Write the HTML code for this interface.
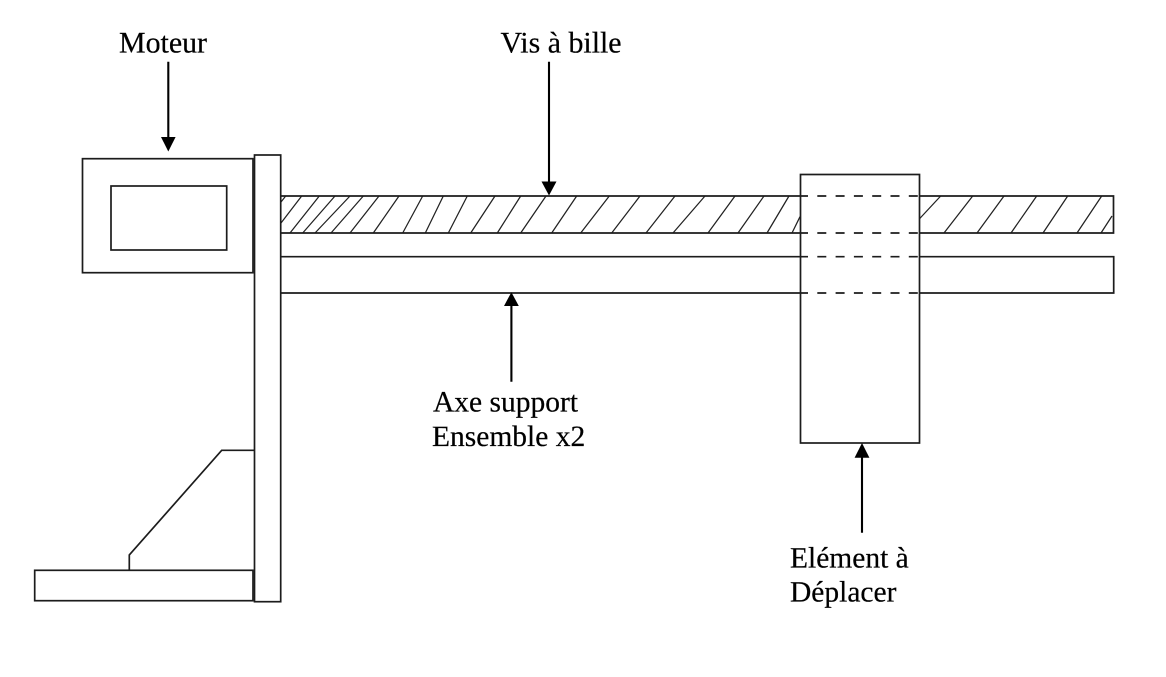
<!DOCTYPE html>
<html lang="fr">
<head>
<meta charset="utf-8">
<title>Schéma vis à bille</title>
<style>
html,body{margin:0;padding:0;background:#fff;width:1166px;height:677px;overflow:hidden}
svg{display:block}
text{font-family:"Liberation Serif",serif;font-size:29.9px;fill:#000;stroke:#000;stroke-width:.2;text-rendering:geometricPrecision}
text.s{font-size:29.5px}
.l{stroke:#1c1c1c;stroke-width:1.7;fill:none}
.h{stroke:#222;stroke-width:1.25;fill:none}
.a{stroke:#000;stroke-width:2.1;fill:none}
.d{stroke:#1c1c1c;stroke-width:1.7;fill:none;stroke-dasharray:9 9.3;stroke-dashoffset:1}
</style>
</head>
<body>
<svg width="1166" height="677" viewBox="0 0 1166 677" xmlns="http://www.w3.org/2000/svg">
<rect width="1166" height="677" fill="#fff"/>

<!-- hatching -->
<path class="h" d="M281 202L285.7 196
M281 223L301.7 196
M290 233L319.3 196
M302.7 233L335 196
M315 233L350 196
M331 233L363.3 196
M350 233L379 196
M373.3 233L399 196
M402.7 233L422.7 196
M425.3 233L443.3 196
M448.3 233L467.3 196
M470.7 233L495 196
M497.3 233L520.7 196
M520.7 233L546 196
M551.7 233L576.7 196
M580.7 233L609.3 196
M611.7 233L640 196
M646 233L675 196
M673 233L705 196
M708 233L735 196
M738 233L764 196
M767 233L789 196
M792 233L800 216.7
M919.3 219L940.7 196
M944 233L972.7 196
M977 233L1004 196
M1011 233L1036.7 196
M1043 233L1067.7 196
M1077 233L1101.7 196
M1101 233L1112 216"/>

<!-- screw and axis -->
<path class="l" d="M281 196H800M919.5 196H1113.5V233H919.5M800 233H281"/>
<path class="l" d="M281 256.7H800M919.5 256.7H1113.7V293H919.5M800 293H281"/>
<path class="d" d="M800 196H919.5"/>
<path class="d" d="M800 233H919.5"/>
<path class="d" d="M800 256.7H919.5"/>
<path class="d" d="M800 293H919.5"/>

<!-- moving block -->
<rect class="l" x="800.5" y="174.5" width="119" height="268.5"/>

<!-- motor -->
<rect class="l" x="82.5" y="158.7" width="170.5" height="114"/>
<rect class="l" x="111" y="186" width="115.7" height="64"/>

<!-- plate, base, gusset -->
<rect class="l" x="254.5" y="155" width="26.2" height="446.7"/>
<rect class="l" x="34.7" y="570.3" width="218.3" height="30.4"/>
<path class="l" d="M254 450.3H221.7L129.3 555V570"/>

<!-- arrows -->
<path class="a" d="M168.3 61.7V140"/>
<path d="M161 137H175.6L168.3 151.5Z" fill="#000"/>
<path class="a" d="M549 61.7V184"/>
<path d="M541.5 181.5H556.5L549 195.5Z" fill="#000"/>
<path class="a" d="M511.4 304V381.7"/>
<path d="M504 306H518.8L511.4 292.2Z" fill="#000"/>
<path class="a" d="M862 455V532.7"/>
<path d="M854.6 457.7H869.4L862 443Z" fill="#000"/>

<!-- labels -->
<text x="119" y="52.7">Moteur</text>
<text x="500.5" y="52.7">Vis à bille</text>
<text class="s" x="433" y="411.7">Axe support</text>
<text class="s" x="432" y="446">Ensemble x2</text>
<text class="s" x="790" y="567.7">Elément à</text>
<text class="s" x="790" y="601.7">Déplacer</text>
</svg>
</body>
</html>
